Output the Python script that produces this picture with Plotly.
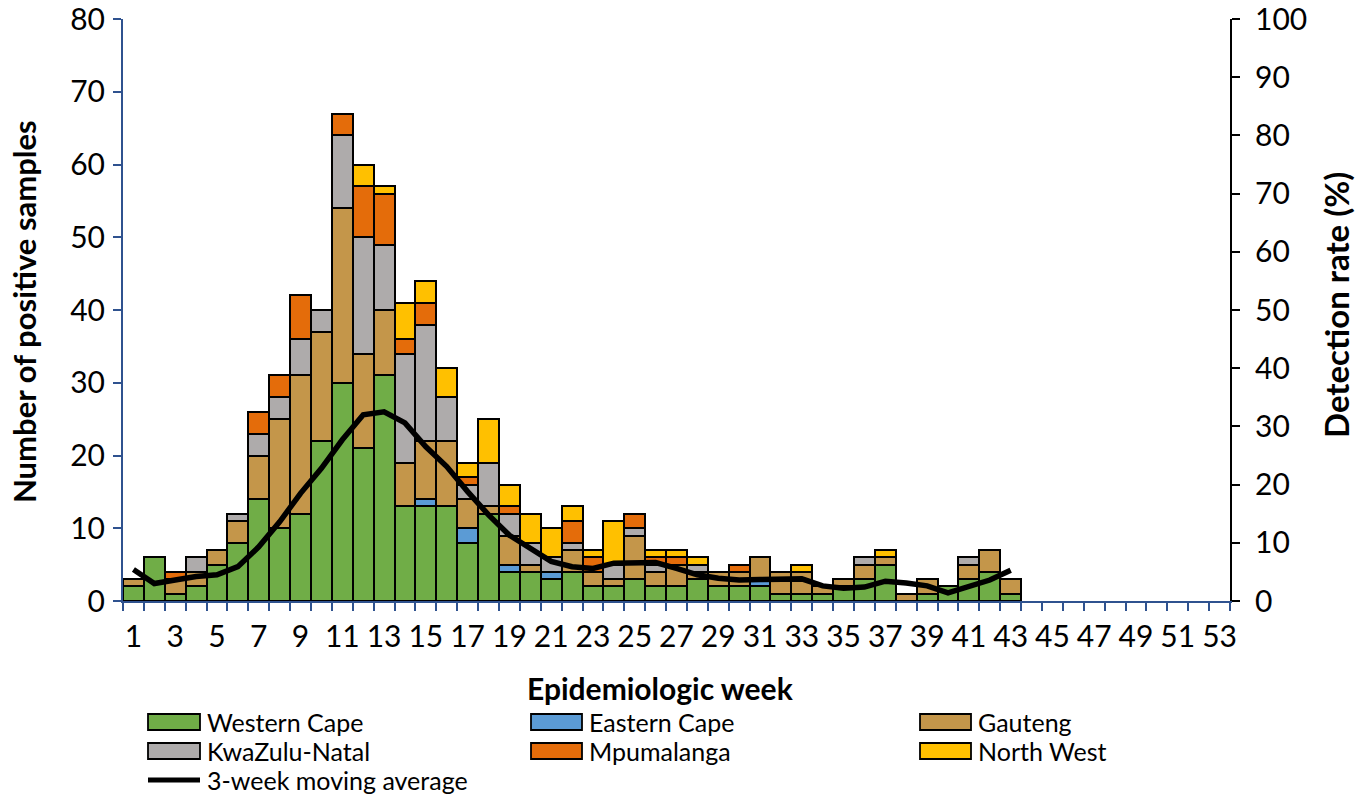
import plotly.graph_objects as go

# ---------------- data ----------------
weeks = list(range(1, 44))
western_cape = [2, 6, 1, 2, 5, 8, 14, 10, 12, 22, 30, 21, 31, 13, 13, 13, 8, 12, 4, 4, 3, 4, 2, 2, 3, 2, 2, 3, 2, 2, 2, 1, 1, 1, 2, 3, 5, 0, 1, 2, 3, 4, 1]
eastern_cape = [0, 0, 0, 0, 0, 0, 0, 0, 0, 0, 0, 0, 0, 0, 1, 0, 2, 0, 1, 0, 1, 0, 0, 0, 0, 0, 0, 0, 0, 0, 1, 0, 0, 0, 0, 0, 0, 0, 0, 0, 0, 0, 0]
gauteng = [1, 0, 2, 2, 2, 3, 6, 15, 19, 15, 24, 13, 9, 6, 8, 9, 4, 1, 4, 1, 0, 3, 2, 1, 6, 2, 3, 1, 2, 2, 3, 3, 3, 1, 1, 2, 1, 1, 2, 0, 2, 3, 2]
kwazulu_natal = [0, 0, 0, 2, 0, 1, 3, 3, 5, 3, 10, 16, 9, 15, 16, 6, 2, 6, 3, 3, 2, 1, 0, 2, 1, 1, 0, 1, 0, 0, 0, 0, 0, 0, 0, 1, 0, 0, 0, 0, 1, 0, 0]
mpumalanga = [0, 0, 1, 0, 0, 0, 3, 3, 6, 0, 3, 7, 7, 2, 3, 0, 1, 0, 1, 0, 0, 3, 2, 0, 2, 1, 1, 0, 0, 1, 0, 0, 0, 0, 0, 0, 0, 0, 0, 0, 0, 0, 0]
north_west = [0, 0, 0, 0, 0, 0, 0, 0, 0, 0, 0, 3, 1, 5, 3, 4, 2, 6, 3, 4, 4, 2, 1, 6, 0, 1, 1, 1, 0, 0, 0, 0, 1, 0, 0, 0, 1, 0, 0, 0, 0, 0, 0]
moving_avg = [5.4, 3.0, 3.6, 4.2, 4.5, 5.9, 9.3, 13.6, 18.5, 22.8, 27.7, 32.0, 32.5, 30.6, 26.5, 23.1, 18.8, 14.8, 11.3, 9.0, 6.8, 5.9, 5.6, 6.5, 6.6, 6.6, 5.6, 4.5, 3.9, 3.6, 3.7, 3.8, 3.8, 2.6, 2.2, 2.4, 3.4, 3.1, 2.6, 1.4, 2.5, 3.6, 5.3]
x_tick_labels = list(range(1, 54, 2))

series = [
    ("Western Cape", western_cape, "#70AD47"),
    ("Eastern Cape", eastern_cape, "#5B9BD5"),
    ("Gauteng", gauteng, "#C4964A"),
    ("KwaZulu-Natal", kwazulu_natal, "#AEABAB"),
    ("Mpumalanga", mpumalanga, "#E46C0A"),
    ("North West", north_west, "#FFC000"),
]

FONT = "Lato"
AXIS_BLUE = "#2F528F"
TICK_SIZE = 30

fig = go.Figure()
for name, vals, color in series:
    fig.add_trace(go.Bar(
        x=weeks, y=[v if v else None for v in vals], name=name,
        marker=dict(color=color, line=dict(color="black", width=2)),
        width=1.0, showlegend=False,
    ))

fig.add_trace(go.Scatter(
    x=weeks, y=moving_avg, yaxis="y2", mode="lines", name="3-week moving average",
    line=dict(color="black", width=5.5, shape="linear"), showlegend=False,
))

# plot area at x 123..1230, y 19..601 of the 1364x798 page
fig.update_layout(
    width=1364, height=798,
    margin=dict(l=123, r=134, t=19, b=197, autoexpand=False),
    barmode="stack", bargap=0, showlegend=False,
    plot_bgcolor="white", paper_bgcolor="white",
    font=dict(family=FONT, size=TICK_SIZE, color="black"),
    xaxis=dict(
        range=[0.5, 53.5], tickmode="array", tickvals=x_tick_labels,
        ticktext=[str(v) for v in x_tick_labels], ticks="", showgrid=False,
        showline=True, linecolor=AXIS_BLUE, linewidth=2, automargin=False,
        ticklabelstandoff=8, ticklabeloverflow="allow",
        minor=dict(tickmode="array", tickvals=[w + 0.5 for w in range(0, 54)],
                   ticks="outside", ticklen=8, tickcolor=AXIS_BLUE, tickwidth=1.5, showgrid=False),
        zeroline=False,
    ),
    yaxis=dict(
        range=[0, 80], dtick=10, tick0=0, ticks="outside", ticklen=8, tickwidth=1.5,
        tickcolor=AXIS_BLUE, showline=True, linecolor=AXIS_BLUE, linewidth=2,
        showgrid=False, zeroline=False, ticklabelstandoff=2, automargin=False,
        ticklabeloverflow="allow",
    ),
    yaxis2=dict(
        range=[0, 100], dtick=10, tick0=0, overlaying="y", side="right",
        ticks="outside", ticklen=8, tickwidth=1.5, tickcolor="black",
        showline=True, linecolor="black", linewidth=2, showgrid=False, zeroline=False,
        ticklabelstandoff=9, automargin=False, ticklabeloverflow="allow",
    ),
)

def px(xpix):
    return (xpix - 123) / 1107.0

def py(ypix):
    return (601 - ypix) / 582.0

annotations = [
    dict(text="<b>Epidemiologic week</b>", x=px(660), y=py(688), xref="paper", yref="paper",
         showarrow=False, font=dict(size=30, family=FONT), xanchor="center", yanchor="middle"),
    dict(text="<b>Number of positive samples</b>", x=px(24), y=py(312), xref="paper", yref="paper",
         showarrow=False, font=dict(size=31, family=FONT), textangle=-90, xanchor="center", yanchor="middle"),
    dict(text="<b>Detection rate (%)</b>", x=px(1336), y=py(305), xref="paper", yref="paper",
         showarrow=False, font=dict(size=33, family=FONT), textangle=-90, xanchor="center", yanchor="middle"),
]

shapes = []
legend_cols = [(148, 200, 205), (531, 582, 587), (920, 971, 976)]
legend_rows = [722, 751]
for i, (name, vals, color) in enumerate(series):
    r, c = divmod(i, 3)
    x0, x1, tx = legend_cols[c]
    yc = legend_rows[r]
    shapes.append(dict(type="rect", xref="paper", yref="paper",
                       x0=px(x0), x1=px(x1), y0=py(yc + 8), y1=py(yc - 8),
                       fillcolor=color, line=dict(color="black", width=1.8)))
    annotations.append(dict(text=name, x=px(tx), y=py(yc), xref="paper", yref="paper",
                            showarrow=False, xanchor="left", yanchor="middle",
                            font=dict(size=25, family=FONT)))
shapes.append(dict(type="line", xref="paper", yref="paper",
                   x0=px(148), x1=px(200), y0=py(780), y1=py(780),
                   line=dict(color="black", width=5)))
annotations.append(dict(text="3-week moving average", x=px(205), y=py(780), xref="paper", yref="paper",
                        showarrow=False, xanchor="left", yanchor="middle", font=dict(size=25, family=FONT)))

fig.update_layout(annotations=annotations, shapes=shapes)
# remove the browser's default 8px body margin so the figure fills the window exactly
fig.write_html(
    "out.html",
    config={"displayModeBar": False},
    post_script="document.body.style.margin='0';document.body.style.overflow='hidden';",
)
